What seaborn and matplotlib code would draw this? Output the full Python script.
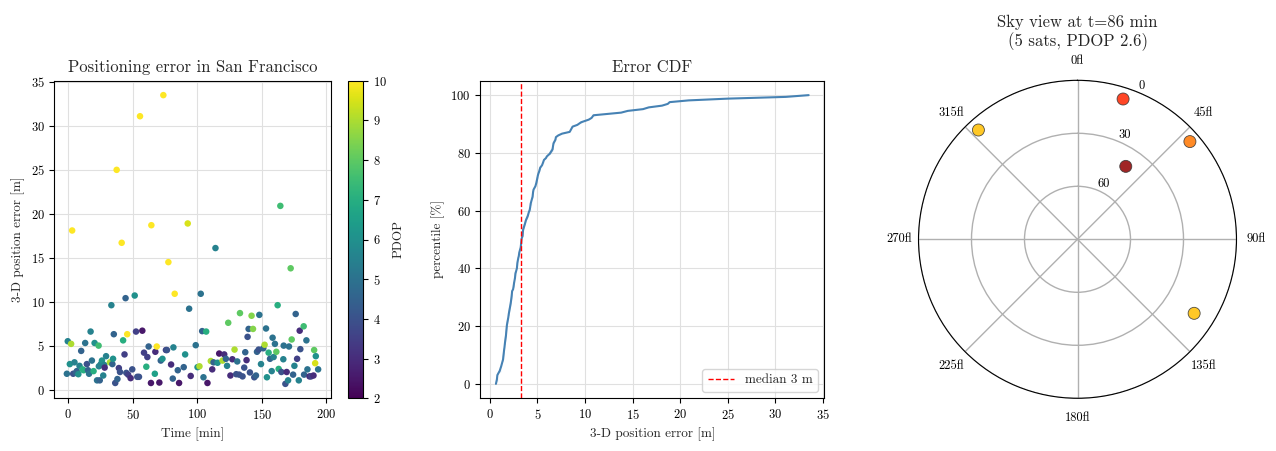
import numpy as np
import pandas as pd
import matplotlib
matplotlib.use("Agg")
import matplotlib.pyplot as plt
import seaborn as sns

# ---------------- data ----------------
time_min = [-1.0, -0.3, 1.3, 2.3, 3.1, 3.9, 4.9, 6.2, 6.7, 7.9, 8.8, 10.1, 11.1, 12.0, 13.2,
            14.5, 15.4, 16.2, 17.4, 18.4, 19.7, 20.5, 22.4, 23.6, 23.8, 24.5, 25.3, 26.2, 27.2,
            28.0, 28.3, 29.4, 32.4, 33.5, 34.3, 34.8, 35.4, 36.5, 37.6, 38.2, 39.3, 40.2, 41.5,
            42.6, 43.7, 44.5, 45.1, 45.8, 46.5, 48.4, 49.7, 51.6, 52.6, 53.6, 54.9, 55.7, 57.5,
            58.8, 60.6, 61.4, 62.4, 64.2, 64.5, 67.2, 67.6, 68.7, 70.7, 71.8, 73.1, 73.8, 75.8,
            76.6, 77.7, 79.8, 81.1, 81.6, 82.6, 85.0, 86.0, 89.6, 90.7, 92.7, 93.8, 95.0, 98.9,
            100.3, 101.8, 102.8, 103.9, 104.9, 107.0, 108.0, 110.6, 111.7, 112.7, 114.2, 115.8,
            117.1, 119.7, 121.0, 122.3, 123.2, 124.1, 125.8, 127.3, 129.0, 130.3, 131.1, 132.6,
            133.2, 135.2, 136.5, 137.3, 138.3, 139.1, 139.9, 140.9, 142.2, 143.3, 144.3, 145.6,
            146.4, 147.7, 148.2, 149.5, 151.3, 152.3, 153.4, 154.1, 155.4, 156.5, 157.8, 158.5,
            159.3, 160.3, 161.4, 162.4, 163.2, 164.5, 165.3, 166.8, 167.1, 168.4, 169.4, 170.5,
            171.2, 172.5, 173.3, 174.4, 175.4, 176.4, 177.5, 178.8, 179.5, 180.0, 182.6, 182.9,
            184.7, 185.5, 187.1, 188.3, 190.2, 190.7, 191.5, 192.0, 193.8]
error_m = [1.8, 5.5, 2.9, 5.2, 18.1, 1.8, 3.1, 1.9, 2.1, 1.75, 2.7, 4.4, 2.3, 2.2, 5.3,
           2.9, 2.2, 1.8, 6.6, 3.3, 2.1, 5.3, 1.05, 5.0, 2.65, 1.05, 2.9, 3.3, 1.6,
           2.8, 2.5, 3.8, 3.1, 9.6, 2.9, 3.5, 6.3, 0.75, 25.0, 1.2, 2.45, 2.0, 16.7,
           5.6, 4.0, 10.4, 1.9, 6.3, 1.7, 1.3, 2.3, 10.7, 6.6, 1.45, 1.45, 31.1, 6.7,
           4.2, 2.6, 3.7, 4.9, 0.75, 18.7, 1.8, 4.3, 4.9, 0.8, 3.3, 3.5, 33.5, 4.5,
           4.5, 14.5, 2.85, 1.25, 4.8, 10.9, 2.2, 0.75, 2.55, 4.0, 18.9, 9.2, 1.55, 5.05,
           2.55, 2.65, 10.9, 6.65, 1.4, 6.6, 0.75, 3.25, 2.3, 3.1, 16.1, 3.05,
           4.1, 3.3, 4.0, 3.5, 2.7, 7.6, 1.6, 3.45, 4.55, 1.75, 3.2, 1.7,
           8.7, 1.5, 2.5, 4.25, 3.35, 6.0, 6.9, 1.95, 8.4, 6.9, 1.4, 1.6,
           4.3, 4.55, 8.5, 2.9, 4.7, 5.1, 6.95, 1.4, 4.2, 3.5, 2.1, 5.9,
           3.7, 5.2, 4.3, 9.6, 2.35, 20.9, 2.0, 3.45, 5.0, 0.65, 2.0, 1.05,
           4.9, 13.8, 5.7, 1.7, 2.7, 8.6, 3.5, 1.05, 6.7, 4.6, 7.2, 1.7,
           5.6, 2.3, 1.5, 1.5, 1.6, 4.5, 3.0, 3.8, 2.3]
pdop = [5.0, 5.5, 6.0, 9.0, 10.0, 4.0, 5.5, 4.5, 4.5, 6.0, 5.5, 4.5, 7.0, 7.0, 5.0,
        4.0, 4.5, 5.0, 5.5, 5.0, 7.0, 6.0, 5.0, 7.5, 5.5, 4.5, 5.5, 6.0, 5.5,
        5.5, 3.0, 5.5, 9.0, 5.5, 4.5, 6.0, 4.5, 4.0, 10.0, 4.5, 3.5, 4.0, 10.0,
        7.0, 3.5, 4.5, 4.0, 10.0, 3.5, 3.0, 4.0, 6.0, 3.5, 4.0, 4.0, 10.0, 2.5,
        3.5, 7.0, 3.5, 4.5, 2.5, 10.0, 6.5, 3.0, 10.0, 2.5, 4.5, 6.0, 10.0, 3.5,
        4.0, 10.0, 3.0, 4.5, 5.5, 10.0, 4.5, 2.5, 4.5, 6.0, 9.5, 5.0, 3.0, 5.0,
        6.0, 9.0, 5.0, 4.5, 5.0, 7.0, 2.5, 9.0, 3.0, 4.5, 5.5, 6.0,
        2.5, 9.0, 3.0, 4.5, 5.5, 8.0, 3.0, 3.0, 9.0, 4.0, 5.0, 4.0,
        8.0, 4.0, 4.0, 4.5, 3.0, 4.0, 4.5, 4.0, 8.5, 8.5, 4.0, 4.5,
        4.5, 4.0, 5.0, 5.5, 4.5, 9.0, 5.0, 6.0, 7.0, 4.5, 5.5, 5.0,
        5.5, 5.0, 8.0, 7.0, 7.0, 7.5, 4.0, 5.5, 5.0, 4.0, 3.0, 5.5,
        5.0, 8.0, 8.0, 4.5, 5.5, 4.5, 3.5, 5.5, 3.0, 4.0, 7.5, 4.5,
        5.0, 5.0, 3.0, 3.5, 3.0, 8.0, 9.5, 6.0, 5.0]

# sky view at t = 86 min
sat_azimuth_deg = [18.0, 33.5, 49.0, 317.8, 122.4]
sat_elevation_deg = [6.5, 40.5, 5.7, 6.5, 11.8]
sat_signal = [0.58, 0.80, 0.46, 0.35, 0.35]

pdop_ticks = [2, 3, 4, 5, 6, 7, 8, 9, 10]
cdf_xticks = [0, 5, 10, 15, 20, 25, 30, 35]
sky_rticks = [0, 30, 60]

# ---------------- style ----------------
sns.set_style("ticks")
plt.rcParams.update({
    "font.family": ["cmr10", "DejaVu Sans"],
    "mathtext.fontset": "cm",
    "axes.formatter.use_mathtext": True,
    "axes.unicode_minus": False,
    "axes.linewidth": 0.8,
    "axes.edgecolor": "black",
    "xtick.major.size": 3.5,
    "ytick.major.size": 3.5,
    "xtick.major.width": 0.8,
    "ytick.major.width": 0.8,
    "xtick.color": "black",
    "ytick.color": "black",
    "xtick.labelsize": 9,
    "ytick.labelsize": 9,
    "axes.labelsize": 9.5,
    "axes.titlesize": 12,
})

W, H = 1276, 451
fig = plt.figure(figsize=(W / 100, H / 100), dpi=100)


def px(l, t, r, b):
    return [l / W, 1 - b / H, (r - l) / W, (b - t) / H]


ax1 = fig.add_axes(px(54.3, 80.7, 330.7, 398.3))
cax = fig.add_axes(px(347.7, 80.7, 363.3, 398.3))
ax2 = fig.add_axes(px(480.3, 80.7, 824.3, 398.3))
ax3 = fig.add_axes(px(918.5, 80.3, 1236.5, 398.3), projection="polar")

df = pd.DataFrame({"time": time_min, "err": error_m, "pdop": pdop})

# --- panel 1: scatter
norm = matplotlib.colors.Normalize(vmin=2, vmax=10)
sns.scatterplot(data=df, x="time", y="err", hue="pdop", palette="viridis",
                hue_norm=norm, s=22, linewidth=0, legend=False, ax=ax1)
ax1.set_title("Positioning error in San Francisco")
ax1.set_xlabel("Time [min]")
ax1.set_ylabel("3-D position error [m]")
ax1.set_xticks([0, 50, 100, 150, 200])
ax1.set_yticks([0, 5, 10, 15, 20, 25, 30, 35])
ax1.grid(True, color="#e0e0e0", linewidth=0.8)
ax1.set_axisbelow(True)
sm = matplotlib.cm.ScalarMappable(norm=norm, cmap="viridis")
cb = fig.colorbar(sm, cax=cax)
cb.set_ticks(pdop_ticks)
cb.set_label("PDOP", fontsize=9.5)
cb.outline.set_linewidth(0.8)

# --- panel 2: CDF
sorted_err = np.sort(np.array(error_m))
pct = np.linspace(0, 100, len(sorted_err))
cdf_df = pd.DataFrame({"err": sorted_err, "pct": pct})
sns.lineplot(data=cdf_df, x="err", y="pct", sort=False, color="steelblue",
             linewidth=1.5, ax=ax2)
med = float(np.median(sorted_err))
ax2.axvline(med, color="red", linestyle="--", linewidth=1,
            label=f"median {med:.0f} m")
ax2.set_title("Error CDF")
ax2.set_xlabel("3-D position error [m]")
ax2.set_ylabel("percentile [%]")
ax2.set_xticks(cdf_xticks)
ax2.grid(True, color="#e0e0e0", linewidth=0.8)
ax2.set_axisbelow(True)
ax2.legend(loc="lower right", fontsize=9.5)

# --- panel 3: sky view
ax3.set_theta_zero_location("N")
ax3.set_theta_direction(-1)
sky = pd.DataFrame({"az": np.deg2rad(sat_azimuth_deg), "el": sat_elevation_deg,
                    "sig": sat_signal})
sns.scatterplot(data=sky, x="az", y="el", hue="sig", palette="hot_r",
                hue_norm=(0, 1), s=75, alpha=0.85, edgecolor="#333333",
                linewidth=0.6, legend=False, ax=ax3, zorder=3)
ax3.set_rlim(90, 0)
ax3.set_yticks(sky_rticks)
ax3.set_yticklabels([str(v) for v in sky_rticks], fontsize=9)
ax3.set_rlabel_position(22.5)
ax3.set_xlabel("")
ax3.set_ylabel("")
ax3.grid(True, color="#b0b0b0", linewidth=1.0)
ax3.tick_params(axis="x", labelsize=9)
ax3.set_title("Sky view at t=86 min\n(5 sats, PDOP 2.6)", fontsize=12)

fig.savefig("out.png", dpi=100)
